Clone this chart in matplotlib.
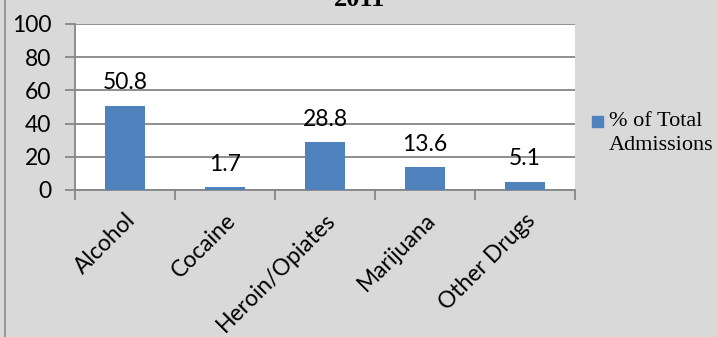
import matplotlib.pyplot as plt
import numpy as np

categories = ["Alcohol", "Cocaine", "Heroin/Opiates", "Marijuana", "Other Drugs"]
values = [50.8, 1.7, 28.8, 13.6, 5.1]
series_name = "% of Total\nAdmissions"
y_ticks = [0, 20, 40, 60, 80, 100]

bg = "#d9d9d9"
bar_color = "#4f81bd"
grid_color = "#868686"
sans = "Lato"

fig = plt.figure(figsize=(7.17, 3.37), dpi=100, facecolor=bg)
ax = fig.add_axes([75 / 717, 1 - 190 / 337, 500 / 717, 166 / 337])
ax.set_facecolor("white")

x = np.arange(len(categories))
ax.bar(x, values, width=0.4, color=bar_color, zorder=3)

for xi, v in zip(x, values):
    ax.annotate(f"{v}", (xi, v), xytext=(0, 9), textcoords="offset points",
                ha="center", va="bottom", fontsize=16.5, family=sans)

ax.set_xlim(-0.5, len(categories) - 0.5)
ax.set_ylim(0, 100)
ax.set_yticks(y_ticks)
ax.set_yticklabels([str(t) for t in y_ticks], fontsize=16.5, family=sans)
ax.yaxis.grid(True, color=grid_color, linewidth=1.3, zorder=0)

ax.set_xticks(x)
ax.set_xticklabels(categories, rotation=45, ha="right", rotation_mode="anchor",
                   fontsize=16.5, family=sans)
ax.set_xticks(np.arange(len(categories) + 1) - 0.5, minor=True)
ax.tick_params(axis="x", which="major", length=0, pad=14)
ax.tick_params(axis="x", which="minor", length=7, color=grid_color, width=1.3)
ax.tick_params(axis="y", length=7, color=grid_color, width=1.3, pad=10)

for s in ["top", "right"]:
    ax.spines[s].set_visible(False)
for s in ["left", "bottom"]:
    ax.spines[s].set_color(grid_color)
    ax.spines[s].set_linewidth(1.3)

# legend
fig.patches.append(plt.Rectangle((592 / 717, 1 - 127 / 337), 11 / 717, 11 / 337,
                                 transform=fig.transFigure, color=bar_color))
fig.text(609 / 717, 1 - 112 / 337, series_name, fontsize=16, family="Liberation Serif",
         va="top", linespacing=1.35, transform=fig.transFigure)

# title, partly cut at top
fig.text(360 / 717, 1 - 11 / 337, "2011", fontsize=19, fontweight="bold",
         family="Liberation Serif", ha="center", va="bottom")

# chart border
fig.add_artist(plt.Line2D([5 / 717, 5 / 717], [0, 1], color="#8c8c8c", linewidth=1.2,
                          transform=fig.transFigure))

fig.savefig("out.png", dpi=100, facecolor=bg)
